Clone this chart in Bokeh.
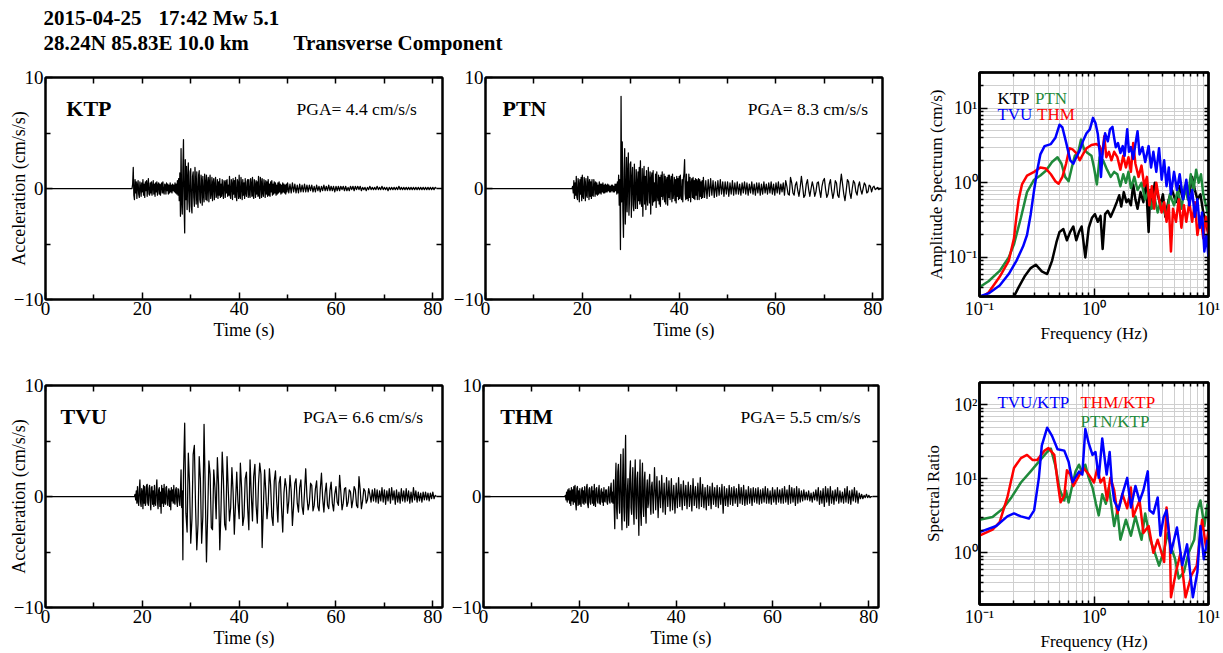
from bokeh.plotting import figure
from bokeh.layouts import column, row
from bokeh.models import FixedTicker, LinearAxis, LogAxis, Label, Range1d
from bokeh.embed import file_html
from bokeh.resources import INLINE

SERIF = "Liberation Serif"
GREEN = "#1f8a3b"
BLUE = "#0000ff"
RED = "#ff0000"

# ---------------------------------------------------------------------------
# Transverse acceleration records (cm/s/s).  Each record is zero before its
# onset, then sampled every DT_FINE s up to the switch time and every DT s
# after it.
# ---------------------------------------------------------------------------
DT_FINE = 0.125
DT = 0.25

ktp_onset = 18.0
ktp_switch = 50.0
ktp_fine = [
    0.4, 1.9, -0.6, -1.0, 0.8, -0.4, 0.6, -0.9, 0.3, 0.7, -0.5, -0.8, 0.6, 0.2, -0.7, 0.5,
    -0.3, 0.8, -0.6, 0.4, -0.8, 0.6, -0.2, 0.7, -0.7, 0.3, 0.9, -0.5, -0.6, 0.5, -0.4, 0.6,
    -0.6, 0.2, 0.7, -0.5, 0.4, -0.7, 0.5, -0.3, 0.6, -0.6, 0.3, 0.5, -0.5, 0.4, -0.6, 0.3,
    0.5, -0.4, 0.6, -0.3, -0.5, 0.4, 0.3, -0.5, 0.5, -0.2, 0.4, -0.5, 0.3, -0.4, 0.5, -0.3,
    0.3, -0.4, 0.4, -0.2, 0.3, -0.3, 0.5, -0.4, 0.4, -0.5, 0.7, -0.6, 0.9, -1.1, 1.4, -2.5,
    3.6, -1.2, -2.3, 1.8, 4.4, -1.5, -4.0, 2.6, -1.0, 2.0, -1.9, 0.8, 2.3, -1.2, -2.1, 1.5,
    1.8, -1.6, -2.2, 1.1, 1.5, -0.8, -1.6, 1.9, 0.6, -1.4, 1.5, -0.9, -1.7, 1.2, 1.6, -1.0,
    -1.3, 1.2, 0.7, -1.5, 1.1, -0.6, -1.2, 1.3, 0.5, -1.0, 1.2, -1.1, 0.4, 1.0, -1.2, 0.6,
    1.2, -0.9, -0.4, 1.0, -1.1, 0.5, 0.9, -1.0, 0.3, 1.0, -0.8, -0.5, 0.8, -0.9, 0.6, -0.6,
    0.9, -0.8, 0.4, -0.7, 0.8, -0.3, -0.9, 0.7, 0.5, -0.8, 0.7, -0.4, 0.8, -0.7, 0.3, -0.6,
    1.1, -0.6, -0.9, 0.8, 0.4, -1.0, 0.9, -0.5, 0.7, -0.8, 1.0, -0.6, -1.1, 0.8, 0.5, -0.9,
    1.2, -0.7, -0.9, 1.0, 0.3, -1.0, 0.8, -0.6, 0.5, -0.9, 0.9, -0.4, -0.7, 0.6, 0.8, -0.8,
    0.8, -0.5, -0.8, 0.9, 0.4, -0.7, 1.0, -0.6, -0.9, 0.8, 0.3, -0.8, 0.7, -0.5, 0.6, -0.7,
    1.1, -0.6, -0.9, 1.0, 0.5, -0.8, 0.9, -0.4, -0.7, 0.8, 0.3, -0.8, 0.7, -0.5, 0.6, -0.7,
    0.8, -0.6, 0.4, -0.7, 0.6, -0.3, 0.7, -0.6, 0.4, -0.5, 0.6, -0.4, 0.5, -0.6, 0.3, -0.5,
    0.5, -0.4, 0.6, -0.3, 0.4, -0.5, 0.3, -0.4, 0.5, -0.3, 0.4, -0.4, 0.3, -0.5, 0.4, -0.3,
]
ktp_coarse = [
    0.5, -0.4, 0.4, -0.4, 0.5, -0.3, 0.4, -0.4,
    0.3, -0.4, 0.4, -0.3, 0.3, -0.3, 0.4, -0.3,
    0.3, -0.3, 0.3, -0.2, 0.3, -0.3, 0.2, -0.3,
    0.3, -0.2, 0.2, -0.3, 0.2, -0.2, 0.3, -0.2,
    0.2, -0.2, 0.3, -0.2, 0.2, -0.2, 0.2, -0.3,
    0.2, -0.2, 0.2, -0.2, 0.2, -0.1, 0.2, -0.2,
    0.2, -0.2, 0.1, -0.2, 0.2, -0.1, 0.2, -0.2,
    0.2, -0.1, 0.2, -0.1, 0.2, -0.2, 0.1, -0.1,
    0.1, -0.2, 0.1, -0.1, 0.2, -0.1, 0.1, -0.1,
    0.1, -0.1, 0.2, -0.1, 0.1, -0.1, 0.2, -0.1,
    0.1, -0.1, 0.1, -0.2, 0.1, -0.1, 0.1, -0.1,
    0.1, -0.1, 0.1, -0.1, 0.2, -0.1, 0.1, -0.1,
    0.1, -0.1, 0.1, -0.1, 0.1, -0.1, 0.1, -0.1,
    0.1, -0.1, 0.1, -0.1, 0.1, -0.1, 0.1, -0.1,
    0.1, -0.1, 0.1, -0.1, 0.1, -0.1, 0.1, -0.1,
    0.1, -0.1, 0.1, 0.0,
]

ptn_onset = 18.0
ptn_switch = 45.0
ptn_fine = [
    0.2, -0.4, 0.7, -0.9, 0.5, -0.6, 1.1, -0.8, -1.0, 0.9, 0.4, -1.2, 0.8, -0.5, 1.0, -1.1,
    1.2, -0.7, -0.9, 1.0, 0.5, -1.1, 0.9, -0.6, -0.8, 1.1, 0.4, -1.0, 0.8, -0.7, 0.6, -0.9,
    0.8, -0.6, -0.7, 0.8, 0.4, -0.7, 0.6, -0.5, 0.5, -0.6, 0.3, -0.5, 0.6, -0.4, 0.4, -0.5,
    0.4, -0.3, 0.5, -0.4, 0.3, -0.4, 0.4, -0.3, 0.3, -0.3, 0.4, -0.2, 0.3, -0.3, 0.2, -0.3,
    0.3, -0.2, 0.3, -0.3, 0.2, -0.3, 0.4, -0.2, 0.4, -0.5, 0.6, -0.4, 1.2, -1.5, 0.8, -5.5,
    8.3, -1.2, 4.2, -2.0, -4.4, 1.5, 3.6, -3.2, -1.0, 2.8, -2.1, 1.2, 3.2, -2.4, -1.0, 2.2,
    2.4, -2.6, 0.8, 1.9, -1.5, -2.0, 2.2, -0.6, -1.8, 1.7, 0.5, -1.8, 1.5, -1.1, 1.9, -1.4,
    2.5, -1.0, -1.6, 1.8, -2.5, 0.7, 2.0, -1.4, 1.1, -1.9, 1.6, -0.8, -1.5, 1.9, 0.6, -1.3,
    1.5, -2.3, 0.9, 1.4, -1.5, 1.6, -1.2, 0.5, -1.1, 1.3, -1.7, 1.5, -0.6, -1.1, 1.2, -1.4,
    1.0, -1.6, 1.2, -0.7, 1.5, -1.0, -0.5, 1.3, -1.2, 1.1, -1.4, 0.7, 1.0, -1.5, 1.2, -0.8,
    1.2, -1.0, 0.6, 1.1, -1.2, 1.3, -0.9, -0.4, 1.0, -1.1, 0.8, -1.3, 1.1, -0.7, 0.9, -1.0,
    1.1, -0.9, 1.2, -0.6, -1.0, 0.8, -1.2, 0.9, 1.4, 2.6, -0.5, -1.0, 1.3, -0.9, 0.6, -1.1,
    1.3, -0.8, 1.0, -1.2, 0.5, 0.9, -0.8, 1.0, -0.9, 0.7, -1.0, 0.9, -0.6, 0.8, -1.0, 0.6,
    0.9, -1.0, 0.8, -0.7, 0.6, -0.9, 0.7, -0.8,
]
ptn_coarse = [
    1.0, -0.8, 0.7, -0.9,
    0.8, -0.7, 0.9, -0.6, 0.7, -0.8, 0.6, -0.7,
    0.7, -0.6, 0.8, -0.5, 0.6, -0.7, 0.6, -0.5,
    0.6, -0.7, 0.5, -0.5, 0.7, -0.6, 0.5, -0.5,
    0.6, -0.5, 0.4, -0.6, 0.5, -0.4, 0.6, -0.5,
    0.5, -0.6, 0.4, -0.4, 0.6, -0.5, 0.4, -0.6,
    0.5, -0.4, 0.5, -0.6, 0.4, -0.5, 0.6, -0.4,
    0.4, -0.5, 0.5, -0.4, 0.6, -0.5, 0.4, -0.6,
    0.5, -0.4, 0.6, -0.5, 0.4, -0.3, 0.5, -0.6,
    0.7, 0.2, -0.5, -0.6, 1.0, 0.5, -0.4, -0.6,
    0.3, 0.6, -0.2, -0.7, 0.1, 1.1, 0.2, -0.8,
    -0.6, 0.4, 0.8, -0.1, -0.7, 0.0, 0.6, 0.1,
    -0.7, -0.3, 0.5, 0.6, -0.2, -0.8, 0.2, 0.7,
    0.9, -0.1, -0.8, -0.5, 0.4, 0.8, -0.2, -0.9,
    -0.3, 0.7, 0.5, -0.6, -0.8, 0.3, 1.3, 0.4,
    -0.5, -1.1, -0.2, 0.8, 0.6, -0.4, -0.9, 0.0,
    0.7, 0.5, -0.3, -0.6, 0.2, 0.6, -0.1, -0.5,
    0.0, 0.5, 0.3, -0.4, -0.3, 0.3, 0.2, -0.3,
    0.1, 0.2, -0.1, 0.0, 0.1, -0.1, 0.0, 0.0,
]

tvu_onset = 18.5
tvu_switch = 28.5
tvu_fine = [
    0.2, -0.3, 0.5, -0.6, 0.9, -0.4, -0.8, 0.6, 1.5, -0.5, -0.9, 0.7, 0.4, -1.1, 1.0, -0.6,
    0.9, -0.8, -0.5, 1.0, 1.1, -0.6, -0.8, 0.7, 1.0, -0.4, -1.2, 0.8, 0.9, -0.7, 0.5, -0.9,
    1.0, -0.6, -0.8, 0.7, 1.5, -0.5, -1.1, 0.6, 0.8, -0.9, 0.4, -1.5, 1.0, -0.6, 0.7, -0.9,
    1.1, -0.5, -0.7, 0.8, 0.9, -0.6, -0.8, 0.5, 0.7, -0.9, 0.5, -1.2, 0.8, -0.4, 0.6, -0.6,
    1.0, -0.5, -0.7, 0.6, 0.8, -0.5, -0.9, 0.7, 0.6, -0.4, -0.8, 0.5, 2.4, -1.0, 0.5, -5.7,
]
tvu_coarse = [
    2.0, 6.6, -1.5, -3.2, 3.9, 1.2, -4.2, -2.0,
    3.8, 4.6, -1.0, -4.8, -2.5, 3.6, 1.5, -4.2,
    -1.8, 6.5, 0.5, -5.9, -1.5, 3.2, 2.0, -2.8,
    -3.0, 2.4, 0.8, -2.0, 3.5, 1.0, -4.8, -1.2,
    4.0, 1.5, -2.5, -3.0, 3.6, 0.6, -2.2, -1.0,
    2.6, 0.4, -3.4, -0.6, 2.2, -0.5, -2.0, 3.0,
    0.8, -2.6, -1.8, 1.6, 2.2, -1.0, -3.0, 3.3,
    0.2, -2.2, 1.8, 2.9, -0.8, -2.4, 1.2, 3.0,
    2.0, -4.6, -1.0, 2.4, 0.5, -2.0, -0.6, 2.5,
    1.0, -1.8, -2.6, 1.4, 2.3, -0.4, -2.3, 1.2,
    1.8, -1.0, -3.2, 0.3, 1.6, 0.8, -1.5, -0.4,
    1.9, 0.5, -2.6, -0.8, 1.2, 1.6, -0.6, -1.4,
    0.8, 1.5, -0.9, -1.6, 0.4, 2.5, 0.0, -1.2,
    -0.6, 1.2, 1.0, -1.3, -0.8, 0.7, 1.4, -0.9,
    -1.3, 0.6, 2.1, -0.2, -1.4, 0.3, 1.2, -0.8,
    -1.1, 0.5, 1.3, -0.6, -1.3, 0.2, 0.9, -0.5,
    -0.8, 1.9, 0.4, -1.2, -0.6, 0.7, 0.8, -0.9,
    -0.5, 0.6, 0.4, -1.0, -0.3, 0.9, 0.6, -0.8,
    -1.0, 1.8, 0.6, -1.1, -0.4, 0.7, 0.5, -0.6,
    -0.3, 0.7, 0.2, -0.5, 0.6, -0.4, 0.7, -0.5,
    0.6, -0.6, 0.5, -0.4, 0.8, -0.5, 0.6, -0.7,
    0.5, -0.4, 0.7, -0.6, 0.8, -0.3, 0.5, -0.7,
    0.6, -0.5, 0.4, -0.6, 0.7, -0.4, 0.5, -0.5,
    0.7, -0.4, 0.5, -0.6, 0.4, -0.5, 0.8, -0.3,
    0.5, -0.5, 0.4, -0.4, 0.3, -0.5, 0.4, -0.3,
    0.4, -0.3, 0.3, -0.4, 0.3, -0.2, 0.4, -0.2,
    0.1, 0.0,
]

thm_onset = 17.0
thm_switch = 35.0
thm_fine = [
    0.1, -0.3, 0.4, -0.5, 0.6, -0.3, 0.7, -0.6, 0.5, -0.8, 0.8, -0.4, 0.6, -0.7, 0.9, -0.5,
    1.0, -0.6, -1.2, 0.7, 0.9, -0.8, 0.5, -0.7, 0.7, -0.5, -0.9, 0.6, 0.8, -0.6, 0.5, -0.7,
    0.9, -0.4, -0.6, 0.8, 1.1, -0.7, -1.0, 0.6, 0.8, -0.5, -0.7, 0.7, 0.9, -0.6, 0.5, -0.8,
    1.1, -0.5, -0.9, 0.7, 0.8, -0.4, -0.6, 0.5, 1.0, -0.6, -0.7, 0.5, 0.7, -0.5, 0.4, -0.8,
    0.8, -0.4, -0.5, 0.6, 0.6, -0.5, -0.7, 0.5, 0.9, -0.4, -0.6, 0.7, 1.2, -0.5, 0.4, -0.6,
    1.5, -0.8, -2.9, 1.2, 3.0, -1.0, -2.0, 2.2, 2.9, -0.6, -1.5, 1.8, 3.8, -1.2, -3.0, 1.4,
    4.3, -0.9, -2.2, 2.5, 5.5, -1.4, -2.8, 0.6, 1.6, -2.6, -0.8, 2.0, 3.2, -1.0, -1.6, 1.1,
    2.6, -1.2, -2.5, 1.4, 3.3, -0.7, -2.0, 1.6, 2.2, -1.0, -3.5, 0.8, 3.3, -1.5, -2.6, 1.2,
    3.0, -0.9, -1.8, 1.5, 2.2, -1.1, -2.4, 0.6, 1.5, -1.0, -0.6, 1.2, 2.0, -0.8, -1.6, 0.9,
]
thm_coarse = [
    1.3, -1.5, 2.6, -1.2, 1.8, -1.9, 1.4, -1.0,
    1.9, -1.4, 1.2, -1.6, 1.7, -0.9, 1.4, -1.3,
    1.6, -1.2, 1.0, -1.5, 1.2, -1.0, 1.7, -0.9,
    1.1, -1.2, 1.4, -0.8, 1.0, -1.1, 1.3, -0.9,
    1.0, -1.3, 1.6, -0.8, 0.9, -1.0, 1.2, -1.1,
    1.7, -0.9, 1.1, -1.0, 0.8, -1.2, 1.0, -0.8,
    0.9, -1.1, 1.2, -0.7, 0.8, -0.9, 1.0, -1.0,
    0.8, -0.7, 1.1, -1.5, 0.9, -0.8, 0.7, -0.9,
    1.0, -0.7, 0.8, -0.8, 0.9, -0.6, 0.7, -0.9,
    1.1, -0.6, 0.8, -0.7, 1.0, -0.8, 0.6, -0.7,
    0.9, -0.6, 0.7, -0.8, 0.8, -0.5, 0.7, -0.6,
    0.8, -0.7, 0.6, -0.6, 0.7, -0.5, 0.9, -0.6,
    0.7, -0.6, 0.5, -0.7, 0.8, -0.5, 0.6, -0.7,
    0.8, -0.5, 0.6, -0.6, 0.7, -0.6, 0.9, -0.5,
    0.6, -0.7, 1.0, -0.6, 0.8, -0.5, 0.7, -0.8,
    0.9, -0.6, 0.7, -0.5, 0.5, -0.4, 0.6, -0.3,
    0.4, -0.3, 0.5, -0.4, 0.3, -0.5, 0.4, -0.3,
    0.6, -0.4, 0.8, -0.7, 0.5, -0.6, 0.7, -0.9,
    0.9, -0.5, 0.7, -0.8, 0.9, -0.6, 0.5, -0.7,
    0.6, -0.4, 0.8, -0.6, 0.5, -0.5, 0.4, -0.6,
    0.7, -0.5, 0.9, -0.6, 0.5, -0.7, 0.6, -0.4,
    0.8, -0.5, 0.5, -0.6, 0.3, -0.2, 0.2, -0.2,
    0.1, -0.1, 0.2, -0.1, 0.1, -0.1, 0.0, 0.0,
]

station_pga = {"KTP": 4.4, "PTN": 8.3, "TVU": 6.6, "THM": 5.5}

# ---------------------------------------------------------------------------
# Fourier amplitude spectra (cm/s) vs frequency (Hz)
# ---------------------------------------------------------------------------
ktp_spec_f = [0.20, 0.22, 0.25, 0.28, 0.31, 0.35, 0.39, 0.43, 0.47, 0.50,
              0.54, 0.58, 0.62, 0.66, 0.70, 0.74, 0.78, 0.84, 0.90, 0.96,
              1.02, 1.08, 1.14, 1.19, 1.25, 1.32, 1.40, 1.50, 1.58, 1.66,
              1.73, 1.82, 1.92, 2.00, 2.10, 2.20, 2.30, 2.40, 2.55, 2.70,
              2.85, 3.00, 3.10, 3.20, 3.40, 3.60, 3.80, 4.00, 4.20, 4.50,
              4.80, 5.20, 5.60, 6.00, 6.40, 6.80, 7.20, 7.60, 8.00, 8.50,
              9.00, 9.50, 10.0]
ktp_spec = [0.030, 0.040, 0.057, 0.072, 0.080, 0.065, 0.060, 0.090, 0.16, 0.22,
            0.24, 0.17, 0.22, 0.26, 0.17, 0.22, 0.26, 0.10, 0.25, 0.34,
            0.38, 0.30, 0.36, 0.13, 0.38, 0.42, 0.35, 0.45, 0.55, 0.68,
            0.48, 0.75, 0.55, 0.60, 0.50, 0.95, 0.60, 0.45, 0.75, 0.55,
            0.95, 0.22, 0.80, 0.55, 1.00, 0.70, 0.50, 0.70, 0.35, 0.60,
            0.80, 0.55, 0.90, 0.60, 1.00, 0.70, 1.20, 0.80, 0.60, 0.70,
            0.40, 0.30, 0.20]

ptn_spec_f = [0.10, 0.12, 0.15, 0.18, 0.20, 0.23, 0.26, 0.30, 0.34, 0.38,
              0.43, 0.48, 0.52, 0.56, 0.60, 0.64, 0.68, 0.73, 0.77, 0.82,
              0.88, 0.95, 1.00, 1.06, 1.12, 1.20, 1.30, 1.40, 1.50, 1.60,
              1.70, 1.80, 1.90, 2.00, 2.10, 2.25, 2.40, 2.60, 2.80, 3.00,
              3.20, 3.40, 3.60, 3.80, 4.00, 4.30, 4.60, 5.00, 5.40, 5.80,
              6.20, 6.60, 7.00, 7.40, 7.80, 8.20, 8.60, 9.00, 9.50, 10.0]
ptn_spec = [0.040, 0.048, 0.066, 0.10, 0.15, 0.34, 0.75, 1.10, 1.25, 1.45,
            1.90, 2.20, 1.80, 1.20, 1.05, 1.60, 2.30, 2.60, 3.80, 2.80,
            2.50, 2.30, 1.60, 0.95, 2.20, 2.00, 1.50, 1.20, 1.40, 1.30,
            0.90, 1.30, 1.00, 1.40, 0.85, 1.20, 0.80, 1.00, 0.60, 0.80,
            0.45, 0.60, 0.40, 0.55, 0.45, 0.35, 0.70, 0.50, 0.80, 0.45,
            0.90, 0.60, 1.30, 0.80, 1.50, 1.00, 1.30, 0.70, 0.50, 0.35]

tvu_spec_f = [0.10, 0.12, 0.15, 0.18, 0.21, 0.24, 0.26, 0.28, 0.30, 0.32,
              0.34, 0.37, 0.42, 0.46, 0.50, 0.53, 0.57, 0.62, 0.66, 0.70,
              0.75, 0.80, 0.86, 0.92, 0.98, 1.03, 1.08, 1.12, 1.15, 1.19,
              1.25, 1.32, 1.38, 1.45, 1.50, 1.55, 1.62, 1.70, 1.78, 1.85,
              1.95, 2.02, 2.10, 2.20, 2.30, 2.40, 2.50, 2.65, 2.80, 3.00,
              3.15, 3.30, 3.50, 3.70, 3.90, 4.10, 4.30, 4.50, 4.70, 5.00,
              5.30, 5.60, 6.00, 6.40, 6.80, 7.20, 7.60, 8.00, 8.40, 8.80,
              9.20, 9.60, 10.0]
tvu_spec = [0.030, 0.033, 0.042, 0.060, 0.090, 0.14, 0.20, 0.38, 0.80, 1.50,
            2.40, 3.10, 3.30, 4.00, 6.00, 5.50, 3.50, 2.00, 1.80, 2.20,
            2.70, 3.60, 4.60, 5.20, 7.40, 6.30, 4.50, 2.60, 1.20, 2.60,
            4.60, 3.60, 5.20, 5.60, 4.00, 3.00, 3.40, 2.50, 3.10, 2.30,
            5.20, 2.60, 3.00, 2.10, 3.30, 4.90, 2.40, 3.00, 1.90, 3.10,
            1.60, 2.60, 1.40, 2.90, 1.10, 2.00, 0.90, 1.60, 0.70, 1.40,
            0.80, 1.30, 0.60, 1.10, 0.50, 0.80, 0.35, 0.60, 0.25, 0.40,
            0.12, 0.20, 0.10]

thm_spec_f = [0.10, 0.12, 0.15, 0.18, 0.20, 0.21, 0.22, 0.235, 0.26, 0.30,
              0.34, 0.38, 0.42, 0.46, 0.49, 0.53, 0.57, 0.61, 0.65, 0.70,
              0.75, 0.80, 0.86, 0.95, 1.05, 1.12, 1.18, 1.23, 1.28, 1.35,
              1.42, 1.50, 1.60, 1.70, 1.80, 1.90, 2.00, 2.10, 2.20, 2.30,
              2.45, 2.60, 2.75, 2.90, 3.05, 3.20, 3.35, 3.50, 3.70, 3.90,
              4.10, 4.30, 4.50, 4.70, 4.90, 5.20, 5.50, 5.80, 6.10, 6.40,
              6.80, 7.20, 7.60, 8.00, 8.50, 9.00, 9.50, 10.0]
thm_spec = [0.028, 0.034, 0.055, 0.090, 0.18, 0.35, 0.60, 0.95, 1.25, 1.40,
            1.60, 1.55, 1.30, 1.05, 0.97, 1.20, 1.80, 2.90, 2.80, 2.50,
            2.00, 2.40, 2.90, 3.20, 3.30, 3.10, 2.40, 4.20, 2.20, 2.60,
            2.00, 2.60, 2.20, 1.50, 2.30, 1.60, 2.20, 1.40, 3.40, 1.80,
            1.20, 1.70, 0.90, 1.20, 0.50, 0.90, 0.45, 1.00, 0.60, 0.40,
            0.55, 0.30, 0.50, 0.12, 0.45, 0.30, 0.60, 0.25, 0.50, 0.30,
            0.55, 0.30, 0.55, 0.20, 0.35, 0.18, 0.35, 0.20]

# ---------------------------------------------------------------------------
# Spectral ratios with respect to the rock site KTP
# ---------------------------------------------------------------------------
tvu_ratio_f = [0.10, 0.14, 0.175, 0.20, 0.23, 0.27, 0.30, 0.33, 0.35, 0.39,
               0.43, 0.48, 0.55, 0.60, 0.65, 0.69, 0.74, 0.79, 0.84, 0.90,
               0.97, 1.03, 1.10, 1.18, 1.29, 1.37, 1.43, 1.50, 1.64, 1.77,
               1.95, 2.10, 2.30, 2.50, 2.70, 2.95, 3.05, 3.30, 3.60, 3.80,
               4.05, 4.30, 4.70, 5.30, 5.90, 6.50, 7.30, 8.00, 8.50, 9.10,
               9.80]
tvu_ratio = [1.9, 2.3, 3.1, 3.4, 3.1, 2.9, 3.75, 10.3, 28.0, 49.0,
             38.0, 25.0, 24.0, 17.0, 9.0, 10.5, 12.5, 11.4, 47.0, 30.0,
             21.0, 23.0, 10.3, 35.0, 11.4, 23.0, 9.0, 5.1, 3.8, 6.2,
             10.3, 4.1, 8.0, 5.0, 7.0, 12.6, 3.75, 3.4, 5.6, 1.7,
             3.0, 3.75, 1.0, 2.2, 0.68, 1.3, 0.25, 0.55, 2.3, 0.82,
             1.5]

thm_ratio_f = [0.10, 0.13, 0.15, 0.175, 0.20, 0.23, 0.26, 0.29, 0.32, 0.37,
               0.40, 0.45, 0.48, 0.51, 0.55, 0.58, 0.62, 0.66, 0.74, 0.81,
               0.90, 1.00, 1.07, 1.14, 1.22, 1.30, 1.39, 1.50, 1.60, 1.77,
               1.95, 2.10, 2.20, 2.50, 2.70, 3.00, 3.30, 3.60, 4.10, 4.30,
               4.60, 4.70, 5.20, 5.70, 6.30, 7.10, 7.90, 8.80, 9.50, 10.0]
thm_ratio = [1.7, 2.05, 2.6, 5.6, 14.0, 19.0, 21.0, 18.0, 18.0, 24.0,
             26.0, 21.0, 9.3, 4.8, 5.9, 13.0, 11.4, 8.0, 11.0, 14.0,
             11.4, 8.9, 14.0, 8.9, 10.3, 5.1, 10.3, 7.0, 3.4, 6.2,
             4.0, 7.6, 3.1, 5.1, 1.85, 2.3, 1.0, 1.5, 0.75, 4.1,
             1.4, 0.25, 0.55, 1.0, 0.25, 0.5, 0.67, 2.8, 1.2, 2.0]

ptn_ratio_f = [0.10, 0.13, 0.16, 0.19, 0.23, 0.28, 0.34, 0.39, 0.42, 0.46,
               0.50, 0.55, 0.57, 0.60, 0.64, 0.69, 0.74, 0.79, 0.84, 0.90,
               0.97, 1.04, 1.10, 1.18, 1.27, 1.35, 1.50, 1.60, 1.70, 1.90,
               2.10, 2.30, 2.60, 2.80, 3.10, 3.40, 3.70, 4.10, 4.40, 4.70,
               5.10, 5.50, 6.10, 6.70, 7.50, 8.00, 8.50, 9.20, 9.80]
ptn_ratio = [2.8, 3.05, 3.95, 5.6, 8.9, 12.6, 18.0, 23.0, 25.5, 15.0,
             7.2, 5.1, 6.9, 4.8, 7.6, 12.6, 15.5, 12.0, 15.5, 10.3,
             7.6, 4.6, 3.2, 6.2, 4.6, 7.6, 2.3, 3.75, 1.5, 2.8,
             1.7, 3.1, 1.5, 3.4, 1.5, 1.0, 0.67, 1.1, 1.85, 1.2,
             0.83, 0.45, 0.55, 1.0, 1.5, 3.75, 5.1, 2.3, 4.6]

# axis ticks
time_ticks = [0, 20, 40, 60, 80]
time_minor = [10, 30, 50, 70]
acc_ticks = [-10, 0, 10]
acc_minor = [-5, 5]
freq_ticks = [0.1, 1.0, 10.0]
freq_minor = [0.2, 0.3, 0.4, 0.5, 0.6, 0.7, 0.8, 0.9,
              2.0, 3.0, 4.0, 5.0, 6.0, 7.0, 8.0, 9.0]
amp_ticks = [0.1, 1.0, 10.0]
amp_minor = [0.03, 0.04, 0.05, 0.06, 0.07, 0.08, 0.09,
             0.2, 0.3, 0.4, 0.5, 0.6, 0.7, 0.8, 0.9,
             2.0, 3.0, 4.0, 5.0, 6.0, 7.0, 8.0, 9.0, 20.0, 30.0]
ratio_ticks = [1.0, 10.0, 100.0]
ratio_minor = [0.2, 0.3, 0.4, 0.5, 0.6, 0.7, 0.8, 0.9,
               2.0, 3.0, 4.0, 5.0, 6.0, 7.0, 8.0, 9.0,
               20.0, 30.0, 40.0, 50.0, 60.0, 70.0, 80.0, 90.0, 200.0]
pow_labels = {0.1: "10\u207b\u00b9", 1.0: "10\u2070", 10.0: "10\u00b9", 100.0: "10\u00b2"}


def record_xy(onset, switch, fine, coarse):
    t = [0.0, onset - DT_FINE]
    t += [onset + DT_FINE * i for i in range(len(fine))]
    t += [switch + DT * i for i in range(len(coarse))]
    return t, [0.0, 0.0] + list(fine) + list(coarse)


def style_axis(ax, label_size="19px", title_size="18px"):
    ax.major_tick_in = 7
    ax.major_tick_out = 0
    ax.minor_tick_in = 5
    ax.minor_tick_out = 0
    ax.major_tick_line_width = 1.5
    ax.minor_tick_line_width = 1.5
    ax.axis_line_width = 2
    ax.major_label_text_font = SERIF
    ax.major_label_text_font_size = label_size
    ax.major_label_text_color = "black"
    ax.major_label_standoff = 2
    ax.axis_label_text_font = SERIF
    ax.axis_label_text_font_size = title_size
    ax.axis_label_text_font_style = "normal"
    ax.axis_label_text_color = "black"
    ax.axis_label_standoff = 2


def tick_only_axis(kind, positions, tick_len=6):
    cls = LogAxis if kind == "log" else LinearAxis
    return cls(ticker=FixedTicker(ticks=[], minor_ticks=positions),
               major_tick_in=0, major_tick_out=0,
               minor_tick_in=tick_len, minor_tick_out=0,
               minor_tick_line_width=1.5,
               axis_line_width=2, major_label_standoff=0)


def wave_panel(record, name, name_x, pga_x, width, height, bl, br, bt, bb, ylabel):
    p = figure(width=width, height=height, output_backend="svg", toolbar_location=None,
               x_range=Range1d(0, 82), y_range=Range1d(-10, 10),
               min_border_left=bl, min_border_right=br,
               min_border_top=bt, min_border_bottom=bb)
    p.frame_align = False
    p.grid.visible = False
    p.outline_line_color = "black"
    p.outline_line_width = 2
    t, y = record
    p.line(t, y, color="black", line_width=1.25, line_join="round")

    xa, ya = p.xaxis[0], p.yaxis[0]
    xa.ticker = FixedTicker(ticks=time_ticks, minor_ticks=time_minor)
    ya.ticker = FixedTicker(ticks=acc_ticks, minor_ticks=acc_minor)
    style_axis(xa)
    style_axis(ya)
    xa.axis_label = "Time (s)"
    if ylabel:
        # the title is pulled in so it shares the margin with the tick labels
        ya.axis_label = "Acceleration (cm/s/s)"
        ya.axis_label_standoff = -18
    p.add_layout(tick_only_axis("lin", time_ticks + time_minor), "above")
    p.add_layout(tick_only_axis("lin", acc_ticks + acc_minor), "right")

    p.add_layout(Label(x=name_x, y=7.2, text=name, text_font=SERIF,
                       text_font_style="bold", text_font_size="22px",
                       text_baseline="middle", text_color="black"))
    p.add_layout(Label(x=pga_x, y=7.2, text=f"PGA= {station_pga[name]} cm/s/s",
                       text_font=SERIF, text_font_size="17.5px", text_align="right",
                       text_baseline="middle", text_color="black"))
    return p


def log_panel(y_range, y_ticks, y_minor, ylabel, label_standoff, height, bt, bb):
    p = figure(width=323, height=height, output_backend="svg", toolbar_location=None,
               x_axis_type="log", y_axis_type="log",
               x_range=Range1d(0.1, 10), y_range=Range1d(*y_range),
               min_border_left=79, min_border_right=15,
               min_border_top=bt, min_border_bottom=bb)
    p.frame_align = False
    p.outline_line_color = "black"
    p.outline_line_width = 2.5
    xtk = FixedTicker(ticks=freq_ticks, minor_ticks=freq_minor)
    ytk = FixedTicker(ticks=y_ticks, minor_ticks=y_minor)
    xa, ya = p.xaxis[0], p.yaxis[0]
    xa.ticker = xtk
    ya.ticker = ytk
    p.xgrid[0].ticker = xtk
    p.ygrid[0].ticker = ytk
    for g in (p.xgrid[0], p.ygrid[0]):
        g.grid_line_color = "#cfcfcf"
        g.minor_grid_line_color = "#cfcfcf"
        g.grid_line_width = 1
        g.minor_grid_line_width = 1
    style_axis(xa, "18px", "17px")
    style_axis(ya, "18px", "17px")
    xa.major_tick_in = 8
    ya.major_tick_in = 8
    xa.minor_tick_in = 4
    ya.minor_tick_in = 4
    xa.axis_line_width = 2.5
    ya.axis_line_width = 2.5
    xa.major_label_overrides = {v: pow_labels[v] for v in freq_ticks}
    ya.major_label_overrides = {v: pow_labels[v] for v in y_ticks}
    xa.axis_label = "Frequency (Hz)"
    ya.axis_label = ylabel
    ya.axis_label_standoff = label_standoff
    p.add_layout(tick_only_axis("log", freq_ticks + freq_minor, 4), "above")
    p.add_layout(tick_only_axis("log", y_ticks + y_minor, 4), "right")
    return p


def legend_text(p, x, y, text, color):
    p.add_layout(Label(x=x, y=y, text=text, text_font=SERIF, text_font_size="17px",
                       text_baseline="middle", text_color=color))


# ----- heading -----
head = figure(width=1223, height=62, output_backend="svg", toolbar_location=None,
              x_range=Range1d(0, 1223), y_range=Range1d(62, 0),
              x_axis_location=None, y_axis_location=None, min_border=0)
head.frame_align = False
head.grid.visible = False
head.outline_line_color = None
for hx, hy, txt in [(43, 17, "2015-04-25"), (158, 17, "17:42 Mw 5.1"),
                    (43, 42, "28.24N 85.83E 10.0 km"), (293, 42, "Transverse Component")]:
    head.add_layout(Label(x=hx, y=hy, text=txt, text_font=SERIF, text_font_style="bold",
                          text_font_size="21px", text_baseline="middle", text_color="black"))

# ----- acceleration panels -----
p_ktp = wave_panel(record_xy(ktp_onset, ktp_switch, ktp_fine, ktp_coarse),
                   "KTP", 4.3, 76.7, 448, 283, 45, 6, 15, 46, True)
p_ptn = wave_panel(record_xy(ptn_onset, ptn_switch, ptn_fine, ptn_coarse),
                   "PTN", 3.5, 79.0, 452, 283, 37, 18, 15, 46, False)
p_tvu = wave_panel(record_xy(tvu_onset, tvu_switch, tvu_fine, tvu_coarse),
                   "TVU", 3.1, 78.0, 448, 308, 45, 6, 40, 46, True)
p_thm = wave_panel(record_xy(thm_onset, thm_switch, thm_fine, thm_coarse),
                   "THM", 3.5, 78.3, 452, 308, 33, 22, 40, 46, False)

# ----- amplitude spectra -----
p_spec = log_panel((0.03, 30), amp_ticks, amp_minor, "Amplitude Spectrum (cm/s)", -1, 283, 10, 45)
p_spec.line(ktp_spec_f, ktp_spec, color="black", line_width=2.5, line_join="round")
p_spec.line(ptn_spec_f, ptn_spec, color=GREEN, line_width=2.5, line_join="round")
p_spec.line(thm_spec_f, thm_spec, color=RED, line_width=2.5, line_join="round")
p_spec.line(tvu_spec_f, tvu_spec, color=BLUE, line_width=2.5, line_join="round")
legend_text(p_spec, 0.1435, 13.5, "KTP", "black")
legend_text(p_spec, 0.305, 13.5, "PTN", GREEN)
legend_text(p_spec, 0.1435, 8.1, "TVU", BLUE)
legend_text(p_spec, 0.318, 8.1, "THM", RED)

# ----- spectral ratios -----
p_ratio = log_panel((0.2, 200), ratio_ticks, ratio_minor, "Spectral Ratio", 8, 308, 37, 42)
p_ratio.line(ptn_ratio_f, ptn_ratio, color=GREEN, line_width=2.5, line_join="round")
p_ratio.line(thm_ratio_f, thm_ratio, color=RED, line_width=2.5, line_join="round")
p_ratio.line(tvu_ratio_f, tvu_ratio, color=BLUE, line_width=2.5, line_join="round")
legend_text(p_ratio, 0.1435, 109, "TVU/KTP", BLUE)
legend_text(p_ratio, 0.762, 109, "THM/KTP", RED)
legend_text(p_ratio, 0.762, 59.7, "PTN/KTP", GREEN)

layout = column(head,
                row(p_ktp, p_ptn, p_spec, spacing=0),
                row(p_tvu, p_thm, p_ratio, spacing=0),
                spacing=0)

with open("out.html", "w") as fh:
    fh.write(file_html(layout, INLINE))
